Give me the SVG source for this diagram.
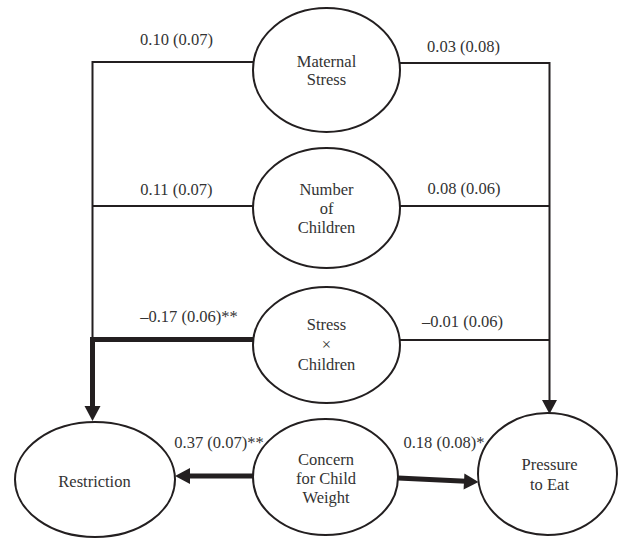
<svg xmlns="http://www.w3.org/2000/svg" width="619" height="539" viewBox="0 0 619 539">
<defs>
<style>
.node ellipse{fill:#fff;stroke:#231f20;stroke-width:2}
text{font-family:"Liberation Serif","Times New Roman","DejaVu Serif",serif;font-size:16.5px;fill:#333;text-anchor:middle}
.thin{stroke:#231f20;stroke-width:2;fill:none}
.thick{stroke:#231f20;stroke-width:5;fill:none}
.head{fill:#231f20}
</style>
</defs>
<rect width="619" height="539" fill="#fff"/>
<g id="connectors">
<polyline class="thin" points="253,62 92.5,62 92.5,339.5"/>
<line class="thin" x1="92.5" y1="206" x2="253" y2="206"/>
<polyline class="thin" points="400,63 549.5,63 549.5,402"/>
<line class="thin" x1="400" y1="206" x2="549.5" y2="206"/>
<line class="thin" x1="400" y1="340" x2="549.5" y2="340"/>
<polygon class="head" points="542,400 557,400 549.5,414"/>
<polyline class="thick" points="253,339.5 92.5,339.5 92.5,408"/>
<polygon class="head" points="84.5,406 100.5,406 92.5,421"/>
<line class="thick" x1="253" y1="476" x2="188" y2="476"/>
<polygon class="head" points="190,468 190,484 175,476"/>
<line class="thick" x1="398" y1="478" x2="466" y2="481.3"/>
<polygon class="head" points="464.4,473.5 463.6,489.5 478.5,482"/>
<text x="176.5" y="45">0.10 (0.07)</text>
<text x="463.5" y="52">0.03 (0.08)</text>
<text x="176.5" y="195">0.11 (0.07)</text>
<text x="464" y="194">0.08 (0.06)</text>
<text x="189" y="322">–0.17 (0.06)**</text>
<text x="462.5" y="327">–0.01 (0.06)</text>
<text x="219" y="448">0.37 (0.07)**</text>
<text x="444" y="448">0.18 (0.08)*</text>
</g>
<g id="maternal-stress" class="node">
<ellipse cx="326.5" cy="70" rx="73.5" ry="62"/>
<text x="326.5" y="67">Maternal</text>
<text x="326.5" y="85">Stress</text>
</g>
<g id="number-of-children" class="node">
<ellipse cx="326.5" cy="208" rx="73.5" ry="60"/>
<text x="326.5" y="195">Number</text>
<text x="326.5" y="214">of</text>
<text x="326.5" y="233">Children</text>
</g>
<g id="stress-x-children" class="node">
<ellipse cx="326.5" cy="345" rx="73.5" ry="58"/>
<text x="326.5" y="330">Stress</text>
<text x="326.5" y="350">×</text>
<text x="326.5" y="370">Children</text>
</g>
<g id="restriction" class="node">
<ellipse cx="95" cy="479.5" rx="80" ry="57.5"/>
<text x="94.5" y="487">Restriction</text>
</g>
<g id="concern" class="node">
<ellipse cx="325.5" cy="477" rx="72.5" ry="58"/>
<text x="326" y="465">Concern</text>
<text x="326" y="484">for Child</text>
<text x="326" y="503">Weight</text>
</g>
<g id="pressure-to-eat" class="node">
<ellipse cx="547.5" cy="474" rx="69.5" ry="61"/>
<text x="549.5" y="470">Pressure</text>
<text x="549.5" y="490">to Eat</text>
</g>
</svg>
